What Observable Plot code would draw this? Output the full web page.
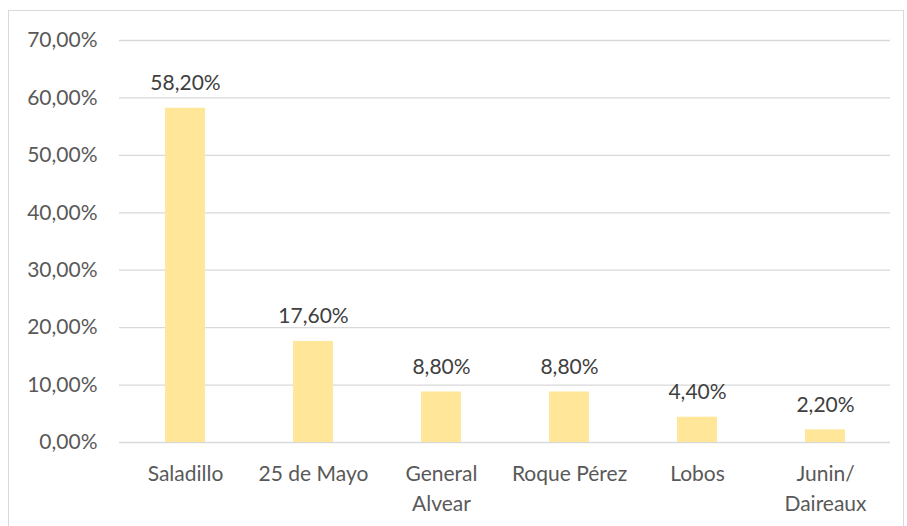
<!DOCTYPE html>
<html>
<head>
<meta charset="utf-8">
<script src="https://cdn.jsdelivr.net/npm/d3@7"></script>
<script src="https://cdn.jsdelivr.net/npm/@observablehq/plot@0.6"></script>
<style>
  html, body { margin: 0; padding: 0; background: #fff; }
  #wrap { position: relative; width: 907px; height: 526px; overflow: hidden; }
  #frame { position: absolute; left: 8px; top: 10px; width: 896px; height: 530px; border: 1px solid #d9d9d9; box-sizing: border-box; }
  #chart { position: absolute; left: 0; top: 0; }
</style>
</head>
<body>
<div id="wrap"><div id="frame"></div><div id="chart"></div></div>
<script>
const categories = ["Saladillo", "25 de Mayo", "General Alvear", "Roque Pérez", "Lobos", "Junin/ Daireaux"];
const tickLabels = ["Saladillo", "25 de Mayo", "General\nAlvear", "Roque Pérez", "Lobos", "Junin/\nDaireaux"];
const values = [0.582, 0.176, 0.088, 0.088, 0.044, 0.022];
const yTicks = [0, 0.1, 0.2, 0.3, 0.4, 0.5, 0.6, 0.7];

const data = categories.map((c, i) => ({category: c, value: values[i]}));
const fmt = v => (v * 100).toFixed(2).replace(".", ",") + "%";
const labelOf = Object.fromEntries(categories.map((c, i) => [c, tickLabels[i]]));

const chart = Plot.plot({
  width: 907,
  height: 526,
  marginLeft: 119,
  marginRight: 17,
  marginTop: 40,
  marginBottom: 84,
  style: {fontFamily: "Lato, sans-serif", fontSize: "21px", color: "#595959", background: "transparent"},
  x: {domain: categories, paddingInner: 0.69, paddingOuter: 0.345, label: null},
  y: {domain: [0, 0.7], label: null},
  marks: [
    Plot.ruleY(yTicks, {stroke: "#d9d9d9", strokeWidth: 1.3}),
    Plot.barY(data, {x: "category", y: "value", fill: "#FFE699"}),
    Plot.text(data, {x: "category", y: "value", text: d => fmt(d.value), lineAnchor: "bottom", dy: -18, fill: "#404040", fontSize: 21}),
    Plot.axisY({ticks: yTicks, tickFormat: fmt, tickSize: 0, tickPadding: 22, fill: "#595959", fontSize: 21}),
    Plot.axisX({tickFormat: d => labelOf[d], tickSize: 0, tickPadding: 18, lineHeight: 1.4, fill: "#595959", fontSize: 21})
  ]
});
document.getElementById("chart").appendChild(chart);
</script>
</body>
</html>
